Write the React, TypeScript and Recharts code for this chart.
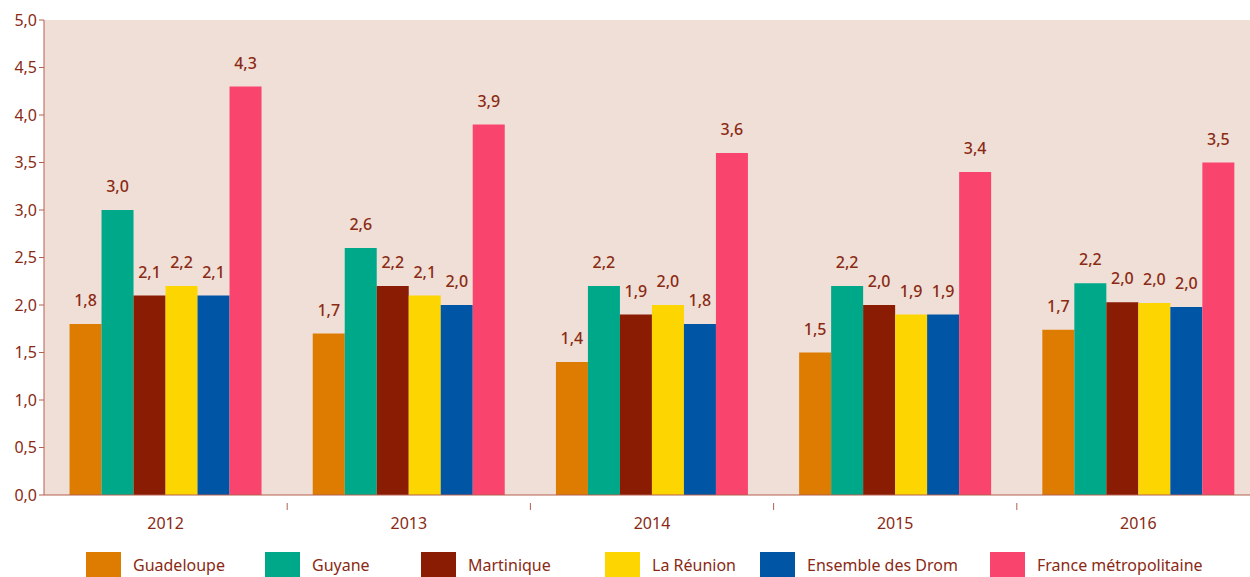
import { BarChart, Bar, XAxis, YAxis, CartesianGrid, Legend, LabelList } from "recharts";

const years = ["2012", "2013", "2014", "2015", "2016"];
const guadeloupe = [1.8, 1.7, 1.4, 1.5, 1.74];
const guyane = [3.0, 2.6, 2.2, 2.2, 2.23];
const martinique = [2.1, 2.2, 1.9, 2.0, 2.03];
const reunion = [2.2, 2.1, 2.0, 1.9, 2.02];
const drom = [2.1, 2.0, 1.8, 1.9, 1.98];
const france = [4.3, 3.9, 3.6, 3.4, 3.5];
const yTicks = [0, 0.5, 1, 1.5, 2, 2.5, 3, 3.5, 4, 4.5, 5];

const series = [
  { key: "guadeloupe", name: "Guadeloupe", color: "#DD7C00", values: guadeloupe },
  { key: "guyane", name: "Guyane", color: "#00A88A", values: guyane },
  { key: "martinique", name: "Martinique", color: "#8A1C03", values: martinique },
  { key: "reunion", name: "La Réunion", color: "#FDD500", values: reunion },
  { key: "drom", name: "Ensemble des Drom", color: "#0055A4", values: drom },
  { key: "france", name: "France métropolitaine", color: "#F9446E", values: france },
];

const data = years.map((year, i) => {
  const row: Record<string, string | number> = { year };
  series.forEach((s) => (row[s.key] = s.values[i]));
  return row;
});

const textColor = "#8A2A14";
const axisColor = "#B3614F";
const font = "'Noto Sans', sans-serif";
const fmt = (v: number) => v.toFixed(1).replace(".", ",");

const W = 1260;
const yAxisW = 44;
const halfBand = (W - yAxisW) / years.length / 2;
const legendLeft = [86, 265, 421, 605, 760, 990];

function YearTick(props: any) {
  const { x, y, payload } = props;
  return (
    <g>
      <line x1={x + halfBand} x2={x + halfBand} y1={y} y2={y + 7} stroke={axisColor} />
      <text x={x} y={y + 26} textAnchor="middle" fill={textColor} fontSize={16} fontFamily={font}>
        {payload.value}
      </text>
    </g>
  );
}

function LegendContent() {
  return (
    <div style={{ position: "relative", height: 25, fontFamily: font, fontSize: 16, color: textColor }}>
      {series.map((s, i) => (
        <div
          key={s.key}
          style={{ position: "absolute", left: legendLeft[i], top: 0, display: "flex", alignItems: "center", gap: 12, whiteSpace: "nowrap" }}
        >
          <span style={{ width: 35, height: 25, background: s.color, display: "inline-block" }} />
          <span>{s.name}</span>
        </div>
      ))}
    </div>
  );
}

export default function App() {
  return (
    <div style={{ position: "absolute", left: 0, top: 0, width: 1250, height: 577, overflow: "hidden", background: "#fff" }}>
      <BarChart
        width={W}
        height={577}
        data={data}
        margin={{ top: 20, right: 0, left: 0, bottom: 0 }}
        barCategoryGap="10.5%"
        barGap={0}
      >
        <CartesianGrid horizontal={false} vertical={false} fill="#F0DFD6" stroke="none" />
        <XAxis
          dataKey="year"
          height={57}
          stroke={axisColor}
          tickLine={false}
          tick={<YearTick />}
          interval={0}
        />
        <YAxis
          domain={[0, 5]}
          ticks={yTicks}
          width={yAxisW}
          tickSize={5}
          stroke={axisColor}
          tickFormatter={fmt}
          tick={{ fill: textColor, fontSize: 16, fontFamily: font }}
          interval={0}
        />
        <Legend
          verticalAlign="bottom"
          height={25}
          content={<LegendContent />}
          wrapperStyle={{ left: 0, width: W }}
        />
        {series.map((s) => (
          <Bar key={s.key} dataKey={s.key} name={s.name} fill={s.color} isAnimationActive={false}>
            <LabelList
              dataKey={s.key}
              position="top"
              offset={18}
              formatter={(v: any) => fmt(Number(v))}
              style={{ fill: textColor, fontSize: 16, fontFamily: font, fontWeight: 500 }}
            />
          </Bar>
        ))}
      </BarChart>
    </div>
  );
}
